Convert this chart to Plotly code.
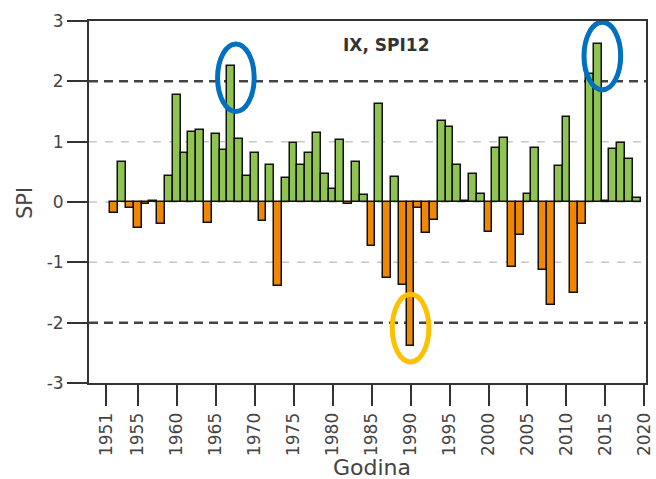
import plotly.graph_objects as go

years = list(range(1952, 2020))
spi12 = [
    -0.18, 0.66, -0.10, -0.43, -0.03, 0.01, -0.36, 0.43, 1.78, 0.81,
    1.16, 1.19, -0.35, 1.12, 0.86, 2.26, 1.05, 0.43, 0.81, -0.32,
    0.61, -1.39, 0.40, 0.98, 0.61, 0.82, 1.14, 0.46, 0.22, 1.02,
    -0.04, 0.66, 0.11, -0.73, 1.63, -1.26, 0.41, -1.37, -2.38, -0.10,
    -0.52, -0.30, 1.35, 1.24, 0.62, 0.02, 0.47, 0.14, -0.50, 0.90,
    1.06, -1.07, -0.54, 0.14, 0.90, -1.12, -1.71, 0.59, 1.41, -1.50,
    -0.36, 2.12, 2.62, 0.01, 0.88, 0.98, 0.71, 0.07,
]
x_tick_vals = [1951, 1955, 1960, 1965, 1970, 1975, 1980, 1985, 1990,
               1995, 2000, 2005, 2010, 2015, 2020]
x_tick_text = [str(v) for v in x_tick_vals]
y_tick_vals = [-3, -2, -1, 0, 1, 2, 3]
y_tick_text = ["-3", "-2", "-1", "0", "1", "2", "3"]
major_levels = [-2, 2]
minor_levels = [-1, 0, 1]
wet_highlights = [1967, 2014]
dry_highlights = [1990]

GREEN = "#8fc352"
ORANGE = "#f08700"
colors = [GREEN if v >= 0 else ORANGE for v in spi12]

W, H = 656, 479
ML, MR, MT, MB = 89, 10, 21, 96

fig = go.Figure()
fig.add_trace(go.Bar(
    x=years, y=spi12, width=1.0,
    marker=dict(color=colors, line=dict(color="#111111", width=1.5)),
    showlegend=False,
))

shapes = []
for lv in minor_levels:
    shapes.append(dict(type="line", xref="paper", yref="y", x0=0, x1=1, y0=lv, y1=lv,
                       line=dict(color="#c8c8c8", width=1.5, dash="8px,8px"), layer="below"))
for lv in major_levels:
    shapes.append(dict(type="line", xref="paper", yref="y", x0=0, x1=1, y0=lv, y1=lv,
                       line=dict(color="#444444", width=2.5, dash="9px,6px"), layer="below"))

def ellipse(xc, yc, color):
    return dict(type="circle", xref="x", yref="y",
                x0=xc - 2.35, x1=xc + 2.35, y0=yc - 0.56, y1=yc + 0.56,
                line=dict(color=color, width=5), layer="above")

for yr in wet_highlights:
    v = spi12[years.index(yr)]
    shapes.append(ellipse(yr + 0.6, v - 0.2, "#0070c0"))
for yr in dry_highlights:
    v = spi12[years.index(yr)]
    shapes.append(ellipse(yr, v + 0.29, "#ffc000"))

def px_x(p):
    return (p - ML) / (W - ML - MR)

def px_y(p):
    return (H - MB - p) / (H - MT - MB)

font_family = "DejaVu Sans"
fig.update_layout(
    width=W, height=H,
    margin=dict(l=ML, r=MR, t=MT, b=MB, autoexpand=False),
    paper_bgcolor="white", plot_bgcolor="white",
    shapes=shapes,
    bargap=0,
    font=dict(family=font_family, color="#444444"),
    annotations=[
        dict(text="<b>IX, SPI12</b>", xref="paper", yref="paper",
             x=px_x(386), y=px_y(45), showarrow=False,
             xanchor="center", yanchor="middle",
             font=dict(size=17, color="#333333", family=font_family)),
        dict(text="Godina", xref="paper", yref="paper",
             x=px_x(372), y=px_y(467), showarrow=False,
             xanchor="center", yanchor="middle",
             font=dict(size=22, color="#444444", family=font_family)),
        dict(text="SPI", xref="paper", yref="paper", textangle=-90,
             x=px_x(25), y=px_y(203), showarrow=False,
             xanchor="center", yanchor="middle",
             font=dict(size=21, color="#444444", family=font_family)),
    ],
)
fig.update_xaxes(
    range=[1948.76, 2020.2], automargin=False,
    tickvals=x_tick_vals, ticktext=x_tick_text, tickangle=-90,
    ticklabeloverflow="allow",
    ticks="outside", ticklen=21, tickwidth=2, tickcolor="#333333",
    tickfont=dict(size=17, color="#444444"),
    showline=True, linewidth=2, linecolor="#333333", mirror=True,
    showgrid=False, zeroline=False,
)
fig.update_yaxes(
    range=[-3, 3], automargin=False,
    tickvals=y_tick_vals, ticktext=y_tick_text,
    ticks="outside", ticklen=20, tickwidth=2, tickcolor="#333333",
    tickfont=dict(size=17, color="#444444"),
    showline=True, linewidth=2, linecolor="#333333", mirror=True,
    showgrid=False, zeroline=False,
)

fig.write_html(
    "out.html",
    config={"displayModeBar": False},
    post_script="document.body.style.margin='0';document.documentElement.style.overflow='hidden';",
)
